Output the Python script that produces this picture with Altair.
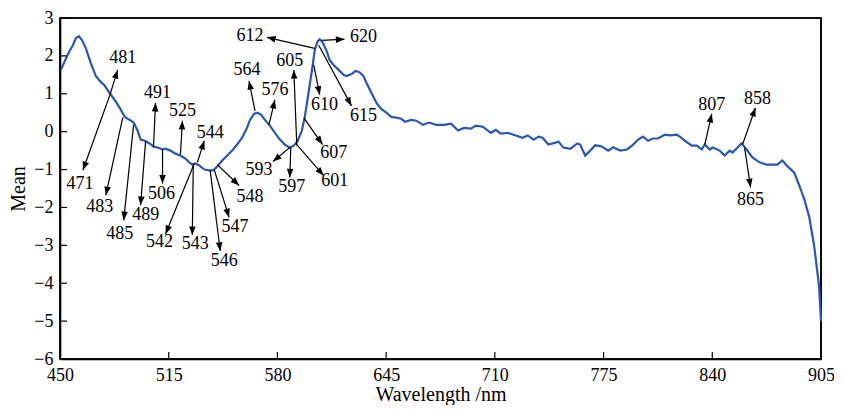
import math
import altair as alt
import pandas as pd

# ---- curve data ----
wavelength = [450.6, 453.6, 456.0, 457.7, 459.5, 461.3, 463.1, 465.5, 468.4, 471.4,
              473.8, 476.8, 479.7, 482.7, 485.7, 488.7, 491.6, 494.0, 496.4, 498.2,
              500.6, 503.5, 505.9, 508.3, 511.3, 513.1, 516.0, 519.0, 522.0, 525.0,
              527.3, 529.1, 530.9, 533.3, 536.3, 539.2, 541.6, 544.0, 547.0, 550.0,
              552.9, 555.9, 558.9, 561.8, 563.6, 566.0, 567.8, 570.2, 572.5, 575.5,
              578.5, 581.5, 584.4, 587.4, 589.8, 592.2, 594.6, 596.3, 597.5, 599.3,
              601.1, 602.3, 604.1, 605.3, 607.0, 609.4, 611.2, 613.6, 616.6, 619.5,
              621.3, 624.3, 626.7, 629.0, 631.4, 633.2, 636.2, 639.2, 642.1, 645.1,
              648.1, 651.1, 654.0, 656.4, 660.0, 663.0, 667.0, 670.7, 674.9, 679.6,
              683.8, 688.0, 691.5, 695.7, 698.7, 702.8, 707.6, 710.6, 713.5, 717.7,
              722.5, 726.6, 729.6, 733.2, 736.1, 738.5, 742.0, 746.3, 748.0, 751.0,
              755.2, 759.3, 761.0, 764.0, 767.0, 770.0, 774.0, 777.8, 780.7, 784.9,
              789.0, 792.0, 795.6, 798.6, 801.6, 804.5, 807.5, 811.7, 814.7, 818.8,
              820.6, 823.6, 827.7, 830.7, 833.7, 835.5, 838.5, 840.2, 844.4, 847.4,
              850.4, 852.1, 855.1, 857.5, 860.5, 864.0, 868.2, 872.4, 876.0, 878.9,
              881.9, 884.9, 889.0, 892.0, 895.0, 898.0, 901.0, 903.9, 905.0]
mean = [1.63, 1.94, 2.15, 2.28, 2.47, 2.52, 2.42, 2.20, 1.81, 1.47,
        1.34, 1.21, 1.02, 0.84, 0.63, 0.39, 0.31, 0.24, 0.03, -0.21,
        -0.24, -0.31, -0.39, -0.42, -0.47, -0.45, -0.50, -0.58, -0.63, -0.71,
        -0.81, -0.87, -0.84, -0.89, -1.00, -1.02, -1.02, -0.92, -0.76, -0.63,
        -0.50, -0.34, -0.16, 0.10, 0.31, 0.47, 0.50, 0.45, 0.31, 0.16,
        -0.03, -0.21, -0.34, -0.42, -0.37, -0.24, 0.03, 0.37, 0.71, 1.23,
        1.76, 2.15, 2.39, 2.44, 2.36, 2.13, 1.89, 1.76, 1.63, 1.50,
        1.47, 1.52, 1.60, 1.57, 1.47, 1.29, 1.02, 0.76, 0.60, 0.50,
        0.39, 0.37, 0.34, 0.26, 0.31, 0.29, 0.18, 0.24, 0.18, 0.18,
        0.21, 0.03, 0.10, 0.08, 0.16, 0.13, -0.03, 0.05, -0.05, -0.03,
        -0.10, -0.16, -0.10, -0.21, -0.13, -0.16, -0.34, -0.29, -0.26, -0.42,
        -0.45, -0.31, -0.34, -0.63, -0.50, -0.36, -0.39, -0.50, -0.41, -0.50,
        -0.47, -0.37, -0.21, -0.13, -0.24, -0.18, -0.18, -0.08, -0.10, -0.08,
        -0.13, -0.24, -0.37, -0.37, -0.47, -0.34, -0.47, -0.42, -0.50, -0.63,
        -0.50, -0.55, -0.42, -0.31, -0.47, -0.68, -0.81, -0.87, -0.87, -0.87,
        -0.76, -0.91, -1.08, -1.42, -1.78, -2.26, -3.04, -4.10, -5.00]

# ---- annotations: label, arrow start (on curve), arrow tip, label position ----
ann_label = ["471", "481", "483", "485", "489", "491", "506", "525", "542", "544",
             "543", "546", "547", "548", "564", "576", "593", "597", "601", "605",
             "607", "610", "612", "615", "620", "807", "858", "865"]
ann_x0 = [479.7, 479.7, 487.5, 494.0, 501.2, 505.9, 511.3, 522.0, 530.3, 532.1,
          529.7, 539.8, 542.2, 544.0, 566.6, 574.9, 587.4, 588.0, 591.6, 591.6,
          595.7, 601.7, 602.3, 604.7, 606.5, 835.5, 858.1, 859.3]
ann_y0 = [0.95, 0.95, 0.37, 0.18, -0.24, -0.42, -0.47, -0.60, -0.84, -0.81,
          -0.87, -1.02, -1.00, -0.87, 0.55, 0.18, -0.42, -0.42, -0.34, -0.37,
          0.37, 1.76, 2.20, 2.28, 2.41, -0.34, -0.34, -0.42]
ann_x1 = [463.7, 484.5, 477.4, 488.1, 498.2, 507.1, 511.3, 523.2, 513.1, 536.3,
          529.1, 545.8, 551.1, 557.1, 563.0, 578.5, 577.3, 587.4, 607.6, 589.8,
          607.0, 605.3, 573.7, 624.3, 620.1, 839.7, 865.8, 862.9]
ann_y1 = [-1.02, 1.63, -1.68, -2.34, -1.94, 0.76, -1.37, 0.29, -2.70, -0.24,
          -2.73, -3.15, -2.26, -1.42, 1.34, 0.84, -0.79, -1.21, -1.16, 1.63,
          -0.34, 0.97, 2.49, 0.68, 2.44, 0.47, 0.63, -1.47]
ann_tx = [461.9, 487.5, 473.8, 485.7, 501.2, 508.3, 510.7, 523.2, 509.5, 539.8,
          530.9, 548.2, 554.7, 563.6, 561.8, 578.5, 569.0, 588.6, 614.2, 587.4,
          613.6, 608.2, 563.6, 631.4, 631.4, 839.7, 867.0, 862.9]
ann_ty = [-1.39, 1.94, -2.00, -2.70, -2.20, 1.02, -1.65, 0.55, -2.91, -0.03,
          -2.97, -3.41, -2.52, -1.73, 1.63, 1.10, -1.02, -1.47, -1.29, 1.86,
          -0.55, 0.71, 2.52, 0.42, 2.49, 0.71, 0.87, -1.81]

x_ticks = [450, 515, 580, 645, 710, 775, 840, 905]
y_ticks = [-6, -5, -4, -3, -2, -1, 0, 1, 2, 3]

W, H = 761, 341
XMIN, XMAX, YMIN, YMAX = 450, 905, -6, 3
FONT = "Liberation Serif"

# arrowhead rotation (clockwise from up, in screen space)
px_per_x = W / (XMAX - XMIN)
px_per_y = H / (YMAX - YMIN)
angles = []
for x0, y0, x1, y1 in zip(ann_x0, ann_y0, ann_x1, ann_y1):
    dx = (x1 - x0) * px_per_x
    dy = -(y1 - y0) * px_per_y
    angles.append((math.degrees(math.atan2(dx, -dy)) + 360) % 360)

curve = pd.DataFrame({"wl": wavelength, "mean": mean})
ann = pd.DataFrame({"label": ann_label, "x0": ann_x0, "y0": ann_y0,
                    "x1": ann_x1, "y1": ann_y1, "tx": ann_tx, "ty": ann_ty,
                    "angle": angles})
xt = pd.DataFrame({"v": x_ticks})
yt = pd.DataFrame({"v": y_ticks})
# the four sides of the box around the plot, in data units
box = pd.DataFrame({"bx0": [XMIN, XMAX, XMIN, XMIN], "bx1": [XMAX, XMAX, XMIN, XMAX],
                    "by0": [YMAX, YMIN, YMIN, YMIN], "by1": [YMAX, YMAX, YMAX, YMIN]})

xscale = alt.Scale(domain=[XMIN, XMAX], nice=False, zero=False)
yscale = alt.Scale(domain=[YMIN, YMAX], nice=False, zero=False)
xaxis = alt.Axis(values=x_ticks, title="Wavelength /nm", grid=False,
                 ticks=False, domain=True, domainColor="black", domainWidth=1.6,
                 labelPadding=7, labelFlush=False, labelOverlap=False,
                 titlePadding=0)
yaxis = alt.Axis(values=y_ticks, title="Mean", grid=False,
                 ticks=False, domain=True, domainColor="black", domainWidth=1.6,
                 labelPadding=7, labelFlush=False, labelOverlap=False,
                 titlePadding=5)


def X(field):
    return alt.X(field, type="quantitative", scale=xscale, axis=xaxis)


def Y(field):
    return alt.Y(field, type="quantitative", scale=yscale, axis=yaxis)


line = alt.Chart(curve).mark_line(color="#2a58b0", strokeWidth=2.2).encode(
    x=X("wl"), y=Y("mean"))

arrows = alt.Chart(ann).mark_rule(color="black", strokeWidth=1.2).encode(
    x=X("x0"), y=Y("y0"), x2="x1:Q", y2="y1:Q")

heads = alt.Chart(ann).mark_point(
    shape="M0,0L0.38,1L-0.38,1Z", filled=True, color="black", opacity=1,
    size=300, strokeWidth=0).encode(
    x=X("x1"), y=Y("y1"), angle=alt.Angle("angle:Q", scale=None))

labels = alt.Chart(ann).mark_text(font=FONT, fontSize=18, color="black",
                                  align="center", baseline="middle").encode(
    x=X("tx"), y=Y("ty"), text="label:N")

xtick_marks = alt.Chart(xt).mark_rule(color="black", strokeWidth=1.2).encode(
    x=X("v"), y=alt.value(H), y2=alt.value(H - 7))
ytick_marks = alt.Chart(yt).mark_rule(color="black", strokeWidth=1.2).encode(
    y=Y("v"), x=alt.value(0), x2=alt.value(7))

frame = alt.Chart(box).mark_rule(color="black", strokeWidth=1.6).encode(
    x=X("bx0"), x2="bx1:Q", y=Y("by0"), y2="by1:Q")

chart = alt.layer(frame, line, arrows, heads, labels, xtick_marks,
                  ytick_marks).properties(
    width=W, height=H,
    autosize=alt.AutoSizeParams(type="none"),
    padding={"left": 52, "top": 10, "right": 13, "bottom": 46},
).configure_view(
    stroke="black", strokeWidth=1.6
).configure_axis(
    labelFont=FONT, titleFont=FONT, labelFontSize=18, titleFontSize=20,
    labelColor="black", titleColor="black", titleFontWeight="normal"
)

chart.save("out.html", embed_options={"renderer": "svg", "actions": False})
